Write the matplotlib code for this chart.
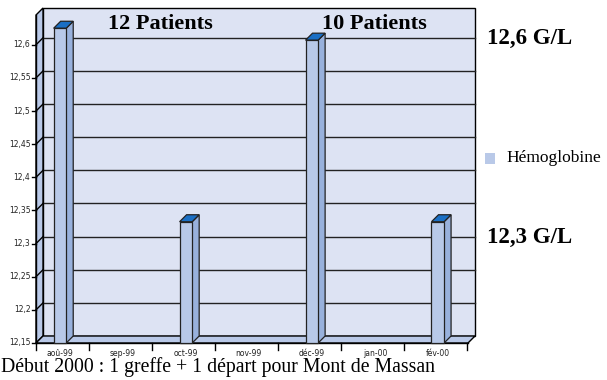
import matplotlib.pyplot as plt
from matplotlib.patches import Polygon, Rectangle

# Données : hémoglobine moyenne par mois
mois = ["aoû-99", "sep-99", "oct-99", "nov-99", "déc-99", "jan-00", "fév-00"]
hemoglobine = [12.625, None, 12.333, None, 12.607, None, 12.333]
graduations = [12.15, 12.2, 12.25, 12.3, 12.35, 12.4, 12.45, 12.5, 12.55, 12.6]
etiquettes_y = ["12,15", "12,2", "12,25", "12,3", "12,35", "12,4", "12,45", "12,5", "12,55", "12,6"]

# Couleurs façon graphique 3D Excel
c_mur = "#dde3f3"
c_paroi = "#b9c9e8"
c_face = "#b8c9e8"
c_cote = "#98b1dc"
c_dessus = "#1a6fc4"

fig = plt.figure(figsize=(6.07, 3.80), dpi=100)
ax = fig.add_axes([36 / 607, 1 - 343 / 380, 432 / 607, 328 / 380])
xmin, xmax = -0.38, 6.48
ymin, ymax = 12.15, 12.645
ax.set_xlim(xmin, xmax)
ax.set_ylim(ymin, ymax)
ax.axis("off")

# profondeur 3D (en unités de données, ~7 px)
DX = 7 * (xmax - xmin) / 432
DY = 7 * (ymax - ymin) / 328

# mur du fond
ax.add_patch(Rectangle((xmin + DX, ymin + DY), xmax - xmin, ymax - ymin,
                       facecolor=c_mur, edgecolor="black", lw=1, clip_on=False, zorder=1))
# paroi gauche
ax.add_patch(Polygon([(xmin, ymin), (xmin + DX, ymin + DY), (xmin + DX, ymax + DY), (xmin, ymax)],
                     facecolor=c_paroi, edgecolor="black", lw=1, clip_on=False, zorder=2))
# plancher
ax.add_patch(Polygon([(xmin, ymin), (xmax, ymin), (xmax + DX, ymin + DY), (xmin + DX, ymin + DY)],
                     facecolor=c_paroi, edgecolor="black", lw=1, clip_on=False, zorder=2))

# quadrillage + graduations de l'axe Y
for v, lab in zip(graduations, etiquettes_y):
    if v > ymin:
        ax.plot([xmin + DX, xmax + DX], [v + DY, v + DY], color="#222222", lw=1,
                clip_on=False, zorder=1.5)
        ax.plot([xmin, xmin + DX], [v, v + DY], color="black", lw=1, clip_on=False, zorder=3)
    ax.plot([xmin - 0.06, xmin], [v, v], color="black", lw=1, clip_on=False, zorder=3)
    ax.text(xmin - 0.09, v, lab, ha="right", va="center", fontsize=5.5,
            family="Liberation Sans Narrow", color="#222222")

# axes avant
ax.plot([xmin, xmin], [ymin, ymax], color="black", lw=1, clip_on=False, zorder=3)
ax.plot([xmin, xmax], [ymin, ymin], color="black", lw=1, clip_on=False, zorder=3)

# graduations de l'axe X
ymb = ymin - 0.011
for t in [xmin] + [i + 0.46 for i in range(len(mois))]:
    ax.plot([t, t], [ymin, ymb], color="black", lw=1, clip_on=False, zorder=3)
for i, m in enumerate(mois):
    ax.text(i, ymin - 0.0095, m, ha="center", va="top", fontsize=5.5,
            family="Liberation Sans Narrow", color="#222222")

# colonnes 3D
w = 0.2
for i, v in enumerate(hemoglobine):
    if v is None:
        continue
    g, d = i - w / 2, i + w / 2
    ax.add_patch(Polygon([(d, ymin), (d + DX, ymin + DY), (d + DX, v + DY), (d, v)],
                         facecolor=c_cote, edgecolor="#222222", lw=0.9, clip_on=False, zorder=4))
    ax.add_patch(Polygon([(g, v), (d, v), (d + DX, v + DY), (g + DX, v + DY)],
                         facecolor=c_dessus, edgecolor="#222222", lw=0.9, clip_on=False, zorder=4))
    ax.add_patch(Rectangle((g, ymin), w, v - ymin, facecolor=c_face,
                           edgecolor="#222222", lw=0.9, clip_on=False, zorder=5))

serif = "Liberation Serif"
ax.text(1.6, 12.631, "12 Patients", ha="center", va="center", fontsize=16,
        fontweight="bold", family=serif, zorder=6)
ax.text(5.0, 12.631, "10 Patients", ha="center", va="center", fontsize=16,
        fontweight="bold", family=serif, zorder=6)

fig.text(487 / 607, 1 - 38 / 380, "12,6 G/L", ha="left", va="center", fontsize=16.5,
         fontweight="bold", family=serif)
fig.text(487 / 607, 1 - 237 / 380, "12,3 G/L", ha="left", va="center", fontsize=16.5,
         fontweight="bold", family=serif)

# légende
fig.patches.append(Rectangle((485 / 607, 1 - 164 / 380), 10 / 607, 11 / 380,
                             facecolor=c_paroi, edgecolor="none",
                             transform=fig.transFigure, figure=fig))
fig.text(506 / 607, 1 - 158 / 380, "Hémoglobine", ha="left", va="center",
         fontsize=12.5, family=serif)

fig.text(1 / 607, 1 - 367 / 380, "Début 2000 : 1 greffe + 1 départ pour Mont de Massan",
         ha="left", va="center", fontsize=14.2, family=serif)

fig.savefig("out.png", dpi=100)
